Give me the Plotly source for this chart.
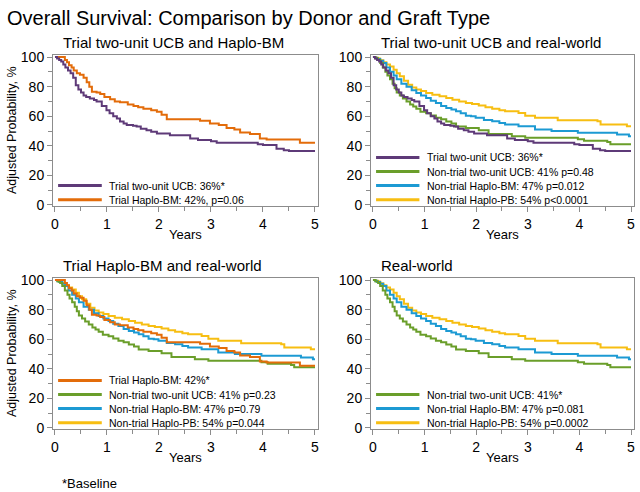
import plotly.graph_objects as go

# ---------------- data ----------------
years_ticks = [0, 1, 2, 3, 4, 5]
prob_ticks = [0, 20, 40, 60, 80, 100]

t_trial_ucb = [0, 0.04, 0.08, 0.12, 0.16, 0.2, 0.25, 0.3, 0.35, 0.4, 0.45, 0.5, 0.55, 0.6, 0.67,
               0.75, 0.8, 0.9, 0.99, 1.05, 1.12, 1.19, 1.25, 1.32, 1.38, 1.5, 1.57, 1.65, 1.76,
               1.85, 1.96, 2.21, 2.6, 2.75, 3.0, 3.11, 3.9, 4.0, 4.26, 4.4, 4.5, 5]
v_trial_ucb = [100, 99, 98, 97, 95, 93, 91, 89, 86, 81, 78, 76, 74, 73, 72,
               71, 70, 67, 64, 62, 60, 58.5, 56.5, 55, 54, 53.5, 53, 51.5, 50.5,
               49.5, 48.3, 47.2, 45, 44, 43, 42, 41, 40.5, 38, 37, 36.5, 36.5]

t_trial_hbm = [0, 0.19, 0.23, 0.27, 0.32, 0.36, 0.42, 0.48, 0.55, 0.61, 0.66, 0.71, 0.8, 0.87,
               0.95, 1.06, 1.15, 1.25, 1.4, 1.51, 1.6, 1.7, 1.85, 1.96, 2.05, 2.15, 2.79, 2.98,
               3.15, 3.30, 3.45, 3.56, 3.75, 3.94, 4.07, 4.71, 5]
v_trial_hbm = [100, 98, 96.5, 94.5, 93, 91, 89, 88, 86, 83, 80, 76.5, 76, 75,
               73, 71.5, 70, 69.5, 68, 67, 66, 65, 64, 63, 61, 58, 57, 55,
               54, 52, 51, 49, 48, 45, 44.3, 42, 42]

t_nt_ucb = [0, 0.05, 0.1, 0.14, 0.19, 0.24, 0.28, 0.33, 0.38, 0.42, 0.46, 0.52, 0.58, 0.65, 0.72,
            0.78, 0.84, 0.92, 1.03, 1.12, 1.22, 1.32, 1.42, 1.52, 1.61, 1.80, 2.05, 2.24, 2.69,
            2.95, 3.97, 4.09, 4.54, 4.60, 5]
v_nt_ucb = [100, 99, 98, 96, 93, 90, 87.5, 85, 82, 79, 76, 74, 72, 70, 68,
            66.5, 65, 63, 62, 60.5, 59, 58, 56.5, 55, 53, 52, 50.5, 48, 46.5,
            45.5, 44.5, 43.5, 42.5, 41, 41]

t_nt_hbm = [0, 0.04, 0.08, 0.14, 0.2, 0.26, 0.33, 0.4, 0.46, 0.55, 0.65, 0.75, 0.84, 0.93, 1.03,
            1.12, 1.22, 1.32, 1.42, 1.52, 1.61, 1.70, 1.80, 1.90, 1.99, 2.15, 2.31, 2.45, 2.56,
            2.82, 3.14, 3.46, 3.97, 4.73, 4.96, 5]
v_nt_hbm = [100, 99.5, 98.7, 97.5, 96, 93, 90, 87.5, 85, 82, 80, 77.5, 75.7, 74, 72.4,
            70.5, 69, 67, 65.6, 64.5, 63.4, 62, 60.4, 60, 59, 57.5, 56.6, 55.5, 54.4,
            53.3, 51, 50, 48.8, 47.6, 46.5, 46.5]

t_nt_hpb = [0, 0.05, 0.1, 0.14, 0.2, 0.26, 0.33, 0.4, 0.46, 0.52, 0.6, 0.68, 0.76, 0.84, 0.93,
            1.03, 1.15, 1.29, 1.42, 1.54, 1.67, 1.80, 1.92, 2.05, 2.18, 2.31, 2.45, 2.56, 2.82,
            2.95, 3.14, 3.58, 4.35, 4.41, 4.92, 5]
v_nt_hpb = [100, 99.5, 99, 97.8, 96.5, 95, 93.7, 91.5, 89, 87, 84, 81.3, 79.5, 78, 77,
            75.7, 74.5, 73.5, 72.3, 71.2, 70, 69, 68.2, 67.2, 66, 65, 64, 63.4, 62.2,
            60.4, 59, 57.3, 56.6, 54.4, 53.3, 53.3]

main_title = "Overall Survival: Comparison by Donor and Graft Type"
panel_titles = ["Trial two-unit UCB and Haplo-BM", "Trial two-unit UCB and real-world",
                "Trial Haplo-BM and real-world", "Real-world"]
x_label = "Years"
y_label = "Adjusted Probability, %"
footnote = "*Baseline"

# series keys shown in each panel, with their legend labels
panel_series = [
    [("ucb", "Trial two-unit UCB: 36%*"), ("hbm", "Trial Haplo-BM: 42%, p=0.06")],
    [("ucb", "Trial two-unit UCB: 36%*"), ("ntucb", "Non-trial two-unit UCB: 41% p=0.48"),
     ("nthbm", "Non-trial Haplo-BM: 47% p=0.012"), ("nthpb", "Non-trial Haplo-PB: 54% p<0.0001")],
    [("hbm", "Trial Haplo-BM: 42%*"), ("ntucb", "Non-trial two-unit UCB: 41% p=0.23"),
     ("nthbm", "Non-trial Haplo-BM: 47% p=0.79"), ("nthpb", "Non-trial Haplo-PB: 54% p=0.044")],
    [("ntucb", "Non-trial two-unit UCB: 41%*"), ("nthbm", "Non-trial Haplo-BM: 47% p=0.081"),
     ("nthpb", "Non-trial Haplo-PB: 54% p=0.0002")],
]

series = {
    "ucb": (t_trial_ucb, v_trial_ucb),
    "hbm": (t_trial_hbm, v_trial_hbm),
    "ntucb": (t_nt_ucb, v_nt_ucb),
    "nthbm": (t_nt_hbm, v_nt_hbm),
    "nthpb": (t_nt_hpb, v_nt_hpb),
}
colors = {"ucb": "#5E3A78", "hbm": "#E36C0A", "ntucb": "#6A9E2A", "nthbm": "#1C9AD3", "nthpb": "#F7BE12"}

# ---------------- figure ----------------
FONT = "Liberation Sans, Arial, sans-serif"
W, H = 640, 492


def fx(px):  # page pixel -> paper fraction (x)
    return px / W


def fy(py):  # page pixel -> paper fraction (y)
    return 1 - py / H


fig = go.Figure()

xdoms = [[fx(53), fx(318)], [fx(371), fx(634)]]
ydoms = [[fy(206), fy(55)], [fy(429), fy(278)]]
gray = "#8C8C8C"

for i in range(4):
    r, c = divmod(i, 2)
    sfx = "" if i == 0 else str(i + 1)
    xa, ya = "x" + sfx, "y" + sfx
    for key, _ in reversed(panel_series[i]):
        t, v = series[key]
        fig.add_trace(go.Scatter(x=t, y=v, mode="lines", line=dict(color=colors[key], width=2, shape="hv"),
                                 xaxis=xa, yaxis=ya, showlegend=False, hoverinfo="skip"))
    common_axis = dict(showline=True, linecolor=gray, linewidth=1, mirror=True, showgrid=False,
                       zeroline=False, ticks="outside", tickcolor=gray, ticklen=5, tickwidth=1,
                       automargin=False,
                       tickfont=dict(family=FONT, size=14, color="black"))
    fig.layout["xaxis" + sfx] = dict(
        domain=xdoms[c], anchor=ya, range=[-0.038, 5.058], tickvals=years_ticks,
        ticklabeloverflow="allow",
        minor=dict(dtick=0.5, tick0=0, ticks="outside", ticklen=4, tickcolor=gray),
        **common_axis)
    fig.layout["yaxis" + sfx] = dict(
        domain=ydoms[r], anchor=xa, range=[-0.7, 101.4], tickvals=prob_ticks,
        minor=dict(dtick=10, tick0=0, ticks="outside", ticklen=4, tickcolor=gray),
        **common_axis)

    # panel title
    fig.add_annotation(text=panel_titles[i], xref=xa + " domain", yref=ya + " domain",
                       x=0.03, y=1.0, xanchor="left", yanchor="middle", yshift=13, showarrow=False,
                       font=dict(family=FONT, size=15, color="black"))
    # axis titles
    fig.add_annotation(text=x_label, xref=xa + " domain", yref=ya + " domain",
                       x=0.5, y=0.0, xanchor="center", yanchor="middle", yshift=-28, showarrow=False,
                       font=dict(family=FONT, size=13, color="black"))
    if c == 0:
        fig.add_annotation(text=y_label, xref="paper", yref=ya + " domain",
                           x=fx(11.5), y=0.5, xanchor="center", yanchor="middle", textangle=-90,
                           showarrow=False, font=dict(family=FONT, size=12.5, color="black"))

    # in-plot legend
    n = len(panel_series[i])
    for j, (key, label) in enumerate(panel_series[i]):
        yv = 3.6 + 9.5 * (n - 1 - j)
        fig.add_shape(type="line", xref=xa, yref=ya, x0=0.06, x1=0.9, y0=yv, y1=yv,
                      line=dict(color=colors[key], width=3))
        fig.add_annotation(text=label, xref=xa, yref=ya, x=1.0, y=yv, xanchor="left", yanchor="middle",
                           showarrow=False, font=dict(family=FONT, size=10.5, color="black"))

fig.add_annotation(text=main_title, xref="paper", yref="paper", x=fx(5), y=fy(18),
                   xanchor="left", yanchor="middle", showarrow=False,
                   font=dict(family=FONT, size=20, color="black"))
fig.add_annotation(text=footnote, xref="paper", yref="paper", x=fx(60), y=fy(483),
                   xanchor="left", yanchor="middle", showarrow=False,
                   font=dict(family=FONT, size=13, color="black"))

fig.update_layout(width=W, height=H, margin=dict(l=0, r=0, t=0, b=0, autoexpand=False),
                  paper_bgcolor="white", plot_bgcolor="white", showlegend=False)

# remove the browser's default 8px body margin so the figure fills the window
fig.write_html("out.html", config={"displayModeBar": False},
               post_script="document.body.style.margin='0';")
